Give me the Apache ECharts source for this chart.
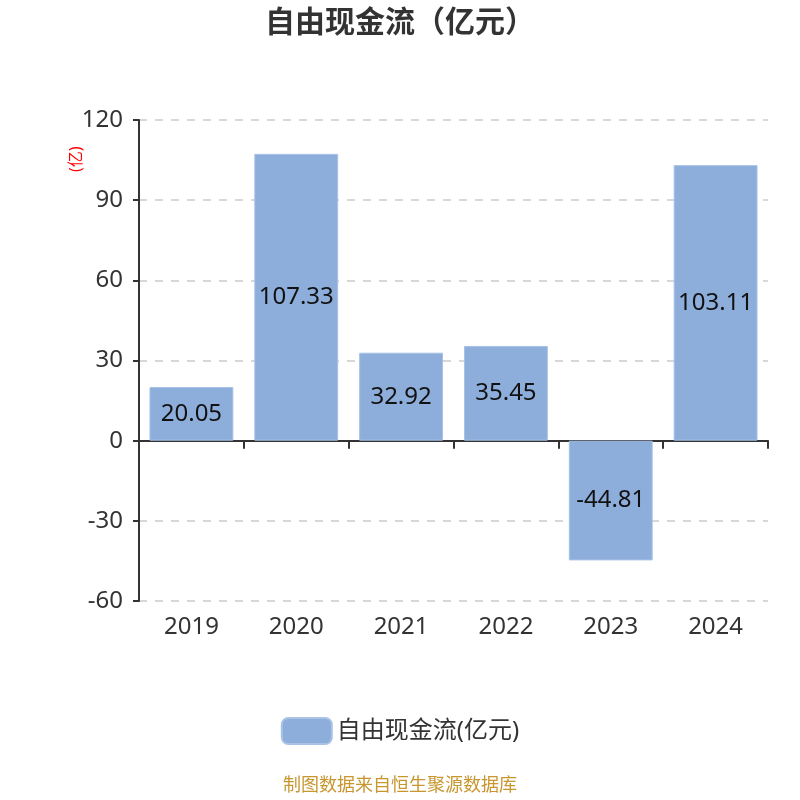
<!DOCTYPE html>
<html>
<head>
<meta charset="utf-8">
<script src="https://cdn.jsdelivr.net/npm/echarts@6/dist/echarts.min.js"></script>
<style>
  html, body { margin: 0; padding: 0; background: #fff; }
  #chart { width: 800px; height: 800px; }
</style>
</head>
<body>
<div id="chart"></div>
<script>
  var years = ['2019', '2020', '2021', '2022', '2023', '2024']
  var freeCashFlow = [20.05, 107.33, 32.92, 35.45, -44.81, 103.11]
  var seriesName = '自由现金流(亿元)'

  var chart = echarts.init(document.getElementById('chart'))

  var font = '"Noto Sans", "Noto Sans CJK SC", sans-serif'

  chart.setOption({
    textStyle: { fontFamily: font },
    title: {
      text: '自由现金流（亿元）',
      left: 'center',
      top: 3,
      textStyle: { fontSize: 30, fontWeight: 'bold', color: '#333', fontFamily: font },
    },
    legend: {
      bottom: 50,
      left: 'center',
      itemWidth: 50,
      itemHeight: 26,
      itemGap: 10,
      icon: 'roundRect',
      textStyle: { fontSize: 24, color: '#333' },
      data: [seriesName],
    },
    grid: { left: 139, right: 32, top: 120, bottom: 199 },
    xAxis: [
      {
        type: 'category',
        data: years,
        axisLine: { onZero: true, lineStyle: { color: '#333', width: 2 } },
        axisTick: { show: true, length: 8, lineStyle: { color: '#333', width: 2 } },
        axisLabel: { show: false },
      },
      {
        type: 'category',
        data: years,
        position: 'bottom',
        axisLine: { show: false, onZero: false },
        axisTick: { show: false },
        axisLabel: { fontSize: 24, color: '#333', margin: 14 },
      },
    ],
    yAxis: {
      type: 'value',
      min: -60,
      max: 120,
      interval: 30,
      axisLine: { show: true, lineStyle: { color: '#333', width: 2 } },
      axisTick: { show: true, length: 6, lineStyle: { color: '#333', width: 2 } },
      axisLabel: { fontSize: 24, color: '#333', margin: 16 },
      splitLine: { lineStyle: { type: [8, 8], color: '#ccc', width: 1.5 } },
    },
    graphic: [
      {
        type: 'text',
        x: 68,
        y: 172,
        rotation: Math.PI / 2,
        style: { text: '(亿)', fill: '#f00', fontSize: 16, fontFamily: font },
      },
      {
        type: 'text',
        left: 'center',
        top: 777,
        style: { text: '制图数据来自恒生聚源数据库', fill: '#C8962E', fontSize: 18, fontFamily: font },
      },
    ],
    series: [
      {
        name: seriesName,
        type: 'bar',
        xAxisIndex: 0,
        data: freeCashFlow,
        barWidth: '80%',
        itemStyle: { color: '#8DADDA', borderColor: '#A9C2E6', borderWidth: 1 },
        label: {
          show: true,
          position: 'inside',
          fontSize: 24,
          color: '#111',
        },
      },
    ],
  })
</script>
</body>
</html>
